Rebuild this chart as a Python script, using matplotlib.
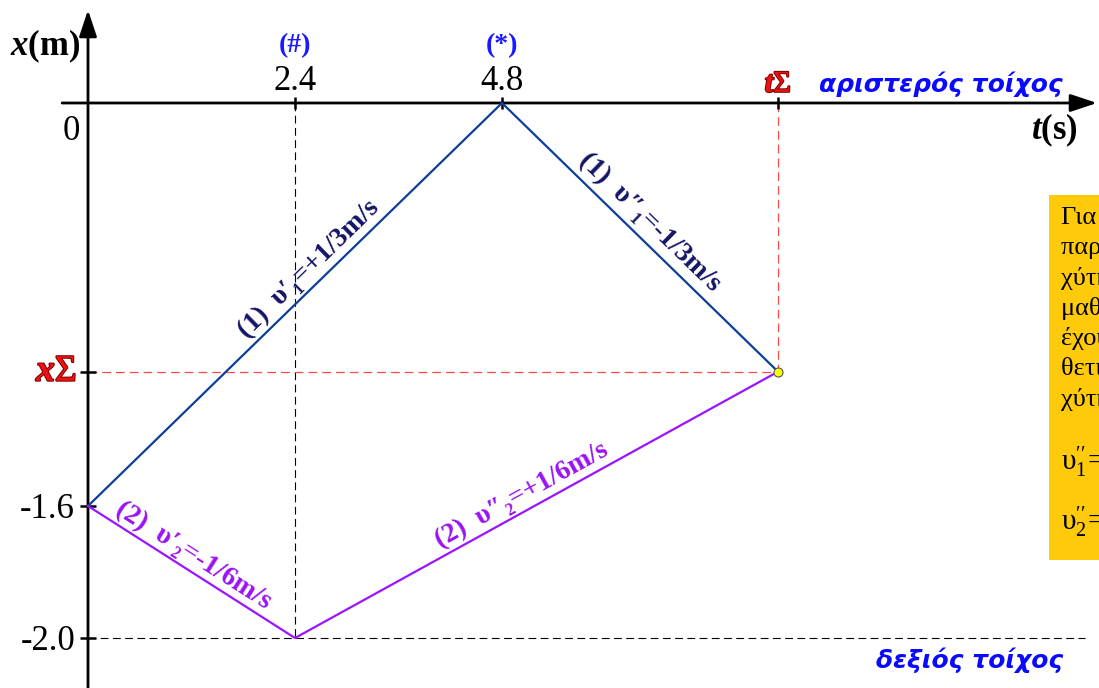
import numpy as np
import matplotlib.pyplot as plt
import matplotlib.patheffects as pe
from matplotlib.patches import Rectangle

plt.rcParams['font.family'] = ['Liberation Serif', 'DejaVu Serif']
plt.rcParams['mathtext.fontset'] = 'custom'
plt.rcParams['mathtext.rm'] = 'Liberation Serif'
plt.rcParams['mathtext.it'] = 'Liberation Serif:italic'
plt.rcParams['mathtext.bf'] = 'Liberation Serif:bold'
plt.rcParams['mathtext.bfit'] = 'Liberation Serif:italic:bold'

# ball 1 (blue) and ball 2 (purple): collision times (s) and velocities (m/s)
t1 = [0.0, 4.8, 8.0]
v1 = [1/3, -1/3]
t2 = [0.0, 2.4, 8.0]
v2 = [-1/6, 1/6]
x_start = -1.6
x_wall = -2.0

x1 = x_start + np.concatenate([[0], np.cumsum(np.diff(t1) * v1)])
x2 = x_start + np.concatenate([[0], np.cumsum(np.diff(t2) * v2)])
t_hash, t_star = t2[1], t1[1]
t_meet, x_meet = t1[-1], x1[-1]

seg_labels = [
    (t1[0], x1[0], t1[1], x1[1], "(1)  υ′₁=+1/3m/s", '#141466', 0.56, 16),
    (t1[1], x1[1], t1[2], x1[2], "(1)  υ″₁=-1/3m/s", '#141466', 0.49, 18),
    (t2[0], x2[0], t2[1], x2[1], "(2)  υ′₂=-1/6m/s", '#9a12f2', 0.47, 15),
    (t2[1], x2[1], t2[2], x2[2], "(2)  υ″₂=+1/6m/s", '#9a12f2', 0.485, 15),
]

note_lines = ["Για τη δεύτερη κρούση",
              "παρατηρούμε ότι οι τα-",
              "χύτητες ανταλλάσσονται,",
              "μαθαίνουμε λοιπόν ότι",
              "έχουμε πάλι μία",
              "θετική και μία αρνητική τα-",
              "χύτητα:"]
note_eqs = [r"$\mathrm{\upsilon}_1^{\prime\prime}\!={-}1/3\,\mathrm{m/s}$",
            r"$\mathrm{\upsilon}_2^{\prime\prime}\!={+}1/6\,\mathrm{m/s}$"]

W, H = 1099, 688
fig = plt.figure(figsize=(W / 100, H / 100), dpi=100)
ax = fig.add_axes([0, 0, 1, 1])
ax.set_axis_off()

# piecewise-linear vertical scale, the sketch is not drawn to scale
y_data = [-3.0, -2.0, -1.6, 0.0, 1.0]
y_pix = [-968.0, -638.0, -506.0, -103.0, 148.9]
fwd = lambda y: np.interp(y, y_data, y_pix)
inv = lambda p: np.interp(p, y_pix, y_data)
ax.set_yscale('function', functions=(fwd, inv))
ax.set_xlim(-88 / 86.25, (W - 88) / 86.25)
ax.set_ylim(inv(-H), inv(0))

def px(x, y):
    return x / W, 1 - y / H

# note box on the right
box_x, box_y = px(1049, 560)
ax.add_patch(Rectangle((box_x, box_y), 0.2, 365 / H, transform=fig.transFigure,
                       facecolor='#ffca0a', edgecolor='none', zorder=1))
for i, line in enumerate(note_lines):
    ax.text(*px(1061, 224 + 30.3 * i), line, transform=fig.transFigure,
            fontsize=19, va='baseline', ha='left', zorder=2)
for i, eq in enumerate(note_eqs):
    ax.text(*px(1061, 470 + 60 * i), eq, transform=fig.transFigure,
            fontsize=21, va='baseline', ha='left', zorder=2)

# axes with arrow heads
t_end = (1097 - 88) / 86.25
arrow = dict(arrowstyle='-|>,head_length=0.9,head_width=0.3', color='k', lw=2,
             mutation_scale=18, shrinkA=0, shrinkB=0)
ax.annotate('', xy=(t_end, 0), xytext=(-0.30, 0), arrowprops=arrow)
ax.annotate('', xy=(0, inv(-10)), xytext=(0, inv(-H - 10)), arrowprops=arrow)

# guide lines
red = '#ff4848'
ax.plot([t_hash, t_hash], [0, x_wall], color='k', lw=0.8, dashes=(7, 4))
ax.plot([0, 11.56], [x_wall, x_wall], color='k', lw=0.8, dashes=(7, 4))
ax.plot([t_meet, t_meet], [0, x_meet], color=red, lw=0.9, dashes=(7, 4))
ax.plot([0, t_meet], [x_meet, x_meet], color=red, lw=0.9, dashes=(7, 4))

# ticks
ax.plot([t_hash, t_star, t_meet], [0, 0, 0], ls='none', marker='|', ms=9, mew=1.8, color='k')
ax.plot([0, 0, 0], [x_meet, x_start, x_wall], ls='none', marker='_', ms=11, mew=1.8, color='k')

# position-time lines
ax.plot(t1, x1, color='#0d3f96', lw=1.6, zorder=3)
ax.plot(t2, x2, color='#9b14ff', lw=1.6, zorder=3)
ax.plot(t_meet, x_meet, 'o', ms=6.5, mfc='#ffff00', mec='#555555', mew=0.8, zorder=5)

# velocity labels along each segment
for ta, xa, tb, xb, label, col, frac, off in seg_labels:
    (pa, qa), (pb, qb) = ax.transData.transform([(ta, xa), (tb, xb)])
    ang = np.degrees(np.arctan2(qb - qa, pb - pa))
    n = np.array([-(qb - qa), pb - pa]) / np.hypot(pb - pa, qb - qa)
    tm, xm = ax.transData.inverted().transform((pa + frac * (pb - pa), qa + frac * (qb - qa)))
    ax.annotate(label, xy=(tm, xm), xytext=(n[0] * off, n[1] * off), textcoords='offset pixels',
                rotation=ang, rotation_mode='anchor', ha='center', va='center',
                fontsize=20, fontweight='bold', color=col)

# tick labels
blue = '#1a1aff'
for t, mark in [(t_hash, '(#)'), (t_star, '(*)')]:
    ax.annotate(f'{t:.1f}', xy=(t, 0), xytext=(0, 13), textcoords='offset pixels',
                ha='center', va='baseline', fontsize=25)
    ax.annotate(mark, xy=(t, 0), xytext=(0, 51), textcoords='offset pixels',
                ha='center', va='baseline', fontsize=20, fontweight='bold', color=blue)
ax.annotate('0', xy=(0, 0), xytext=(-8, -12), textcoords='offset pixels',
            ha='right', va='top', fontsize=25)
for x in [x_start, x_wall]:
    ax.annotate(f'{x:.1f}', xy=(0, x), xytext=(-13, 0), textcoords='offset pixels',
                ha='right', va='center_baseline', fontsize=25)

# axis titles
ax.annotate(r'$\mathbfit{x}\mathbf{(m)}$', xy=(0, 0), xytext=(-8, 57), textcoords='offset pixels',
            ha='right', va='center', fontsize=25)
ax.annotate(r'$\mathbfit{t}\mathbf{(s)}$', xy=(t_end, 0), xytext=(-19, -27), textcoords='offset pixels',
            ha='right', va='center', fontsize=25)

# meeting point labels
outline = [pe.withStroke(linewidth=1.4, foreground='#7a0000')]
ax.annotate(r'$\mathbfit{t}\mathrm{\Sigma}$', xy=(t_meet, 0), xytext=(0, 11), textcoords='offset pixels',
            ha='center', va='baseline', fontsize=22, color='#ee1111', path_effects=outline)
ax.annotate(r'$\mathbfit{x}\mathrm{\Sigma}$', xy=(0, x_meet), xytext=(-11, 0), textcoords='offset pixels',
            ha='right', va='center', fontsize=27, color='#ee1111', path_effects=outline)

# wall labels
ax.annotate('αριστερός τοίχος', xy=(t_end, 0), xytext=(-34, 11), textcoords='offset pixels',
            ha='right', va='baseline', fontsize=18, family='DejaVu Sans',
            fontweight='bold', fontstyle='italic', color='#0a0aff')
ax.annotate('δεξιός τοίχος', xy=(t_end, x_wall), xytext=(-34, -30), textcoords='offset pixels',
            ha='right', va='baseline', fontsize=18, family='DejaVu Sans',
            fontweight='bold', fontstyle='italic', color='#0a0aff')

fig.savefig('out.png', dpi=100)
